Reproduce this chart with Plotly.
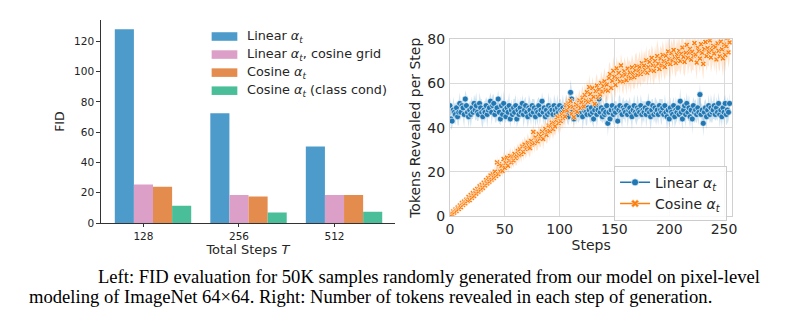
import plotly.graph_objects as go

# ---------------- data: left panel (FID bars) ----------------
steps_T = ["128", "256", "512"]
bar_series = ["Linear <i>α</i><sub><i>t</i></sub>",
              "Linear <i>α</i><sub><i>t</i></sub>, cosine grid",
              "Cosine <i>α</i><sub><i>t</i></sub>",
              "Cosine <i>α</i><sub><i>t</i></sub> (class cond)"]
fid_linear = [128.0, 72.5, 50.5]
fid_linear_cosgrid = [25.5, 18.5, 18.5]
fid_cosine = [24.0, 17.5, 18.5]
fid_cosine_cc = [11.5, 7.0, 7.5]
fid_ticks = [0, 20, 40, 60, 80, 100, 120]

# ---------------- data: right panel (tokens revealed per step) ----------------
steps_ticks = [0, 50, 100, 150, 200, 250]
tokens_ticks = [0, 20, 40, 60, 80]

linear_tokens = [
    50, 44, 43, 48, 47, 46, 49, 45, 47, 51, 47, 50, 49, 46, 53, 50,
    47, 45, 48, 46, 49, 47, 51, 48, 50, 47, 46, 51, 49, 47, 45, 48,
    47, 50, 46, 48, 49, 52, 47, 50, 51, 46, 48, 49, 53, 47, 44, 50,
    46, 51, 48, 45, 49, 47, 50, 44, 48, 46, 49, 47, 50, 44, 48, 46,
    49, 47, 51, 46, 48, 50, 47, 45, 49, 48, 46, 50, 47, 49, 45, 48,
    47, 50, 46, 48, 52, 47, 49, 45, 48, 46, 50, 47, 49, 48, 46, 50,
    48, 46, 49, 47, 50, 48, 47, 49, 46, 48, 50, 47, 45, 49, 56, 53,
    48, 44, 49, 47, 50, 46, 48, 47, 49, 45, 48, 50, 47, 46, 49, 48,
    46, 49, 47, 44, 48, 50, 46, 48, 53, 47, 49, 45, 48, 46, 47, 50,
    42, 47, 44, 48, 50, 46, 48, 47, 49, 43, 48, 50, 47, 46, 49, 48,
    47, 50, 46, 48, 49, 47, 45, 48, 50, 47, 46, 49, 48, 47, 50, 46,
    48, 47, 49, 46, 48, 51, 47, 45, 48, 50, 46, 49, 47, 48, 46, 50,
    48, 47, 49, 46, 50, 47, 45, 48, 44, 49, 47, 46, 50, 45, 48, 47,
    49, 46, 52, 47, 44, 48, 50, 46, 51, 47, 49, 45, 48, 44, 50, 47,
    48, 46, 49, 47, 55, 46, 48, 42, 47, 49, 45, 48, 50, 46, 49, 47,
    48, 50, 46, 49, 47, 51, 46, 48, 45, 49, 47, 51, 46, 48, 47, 51,
]
linear_spread = [
    4, 5, 3, 6, 4, 5, 3, 4, 6, 5, 4, 3, 5, 6, 4, 5,
    3, 5, 4, 6, 5, 3, 4, 5, 6, 4, 3, 5, 4, 6, 5, 4,
    5, 4, 6, 3, 5, 4, 6, 5, 4, 3, 6, 5, 4, 5, 3, 6,
    4, 6, 5, 3, 4, 5, 6, 4, 5, 3, 4, 6, 5, 4, 6, 3,
    5, 3, 4, 6, 5, 4, 3, 5, 6, 4, 5, 3, 6, 4, 5, 4,
    6, 4, 5, 3, 4, 6, 5, 4, 3, 5, 6, 4, 5, 3, 4, 5,
    4, 5, 6, 4, 3, 5, 4, 6, 5, 4, 5, 5, 4, 6, 6, 5,
    5, 4, 3, 6, 5, 4, 5, 3, 4, 6, 5, 4, 6, 5, 3, 4,
    4, 6, 5, 4, 3, 5, 6, 4, 5, 4, 6, 3, 5, 4, 6, 5,
    6, 4, 5, 3, 6, 5, 4, 5, 3, 4, 6, 5, 4, 6, 5, 4,
    5, 3, 6, 4, 5, 4, 6, 3, 5, 4, 5, 6, 4, 3, 5, 6,
    4, 5, 3, 6, 4, 5, 4, 6, 5, 3, 4, 5, 6, 4, 5, 3,
    5, 6, 4, 3, 5, 4, 6, 5, 4, 5, 3, 6, 4, 5, 6, 4,
    3, 5, 6, 4, 5, 3, 4, 6, 5, 4, 6, 5, 3, 7, 4, 5,
    5, 4, 5, 6, 5, 5, 3, 6, 5, 4, 6, 3, 5, 4, 6, 5,
    4, 6, 3, 5, 4, 5, 6, 4, 5, 3, 6, 4, 5, 6, 4, 5,
]
cosine_tokens = [
    0.5, 1.2, 0.8, 2.1, 1.6, 3.0, 2.4, 3.9, 3.2, 4.8, 4.0, 5.9, 5.1, 6.6, 5.8, 7.5,
    6.8, 8.6, 7.2, 9.5, 8.3, 10.4, 9.1, 11.6, 10.2, 12.3, 11.1, 13.5, 12.0, 14.2, 12.8, 15.1,
    13.9, 16.3, 14.8, 17.2, 15.6, 18.4, 16.5, 18.9, 17.3, 20.1, 18.2, 24.3, 19.0, 23.5, 20.2, 22.8,
    20.5, 25.8, 21.9, 24.0, 26.5, 22.8, 25.1, 27.2, 24.3, 26.9, 25.2, 28.1, 26.3, 27.0, 29.4, 27.6,
    30.2, 28.1, 31.5, 29.0, 32.4, 30.3, 31.0, 33.2, 31.6, 30.8, 34.0, 32.5, 38.1, 33.0, 35.6, 34.2,
    33.8, 37.2, 35.0, 36.1, 38.3, 34.9, 37.6, 39.5, 36.8, 38.2, 41.0, 38.5, 40.7, 42.3, 39.4, 42.0,
    40.6, 43.5, 44.8, 42.1, 45.2, 43.0, 46.1, 44.3, 47.4, 45.0, 50.2, 47.8, 51.0, 49.4, 52.1, 46.3,
    49.5, 44.8, 48.0, 50.6, 47.2, 49.8, 52.4, 48.9, 51.5, 53.6, 49.6, 54.8, 52.3, 56.1, 51.7, 58.4,
    55.2, 52.6, 57.9, 54.0, 50.8, 56.6, 59.1, 53.9, 57.3, 55.0, 60.2, 56.4, 58.8, 61.0, 57.2, 59.5,
    56.8, 62.5, 64.3, 58.0, 61.2, 65.8, 63.0, 59.4, 66.9, 62.1, 64.8, 61.0, 68.2, 63.5, 60.9, 65.6,
    64.0, 61.5, 66.8, 63.2, 65.0, 62.4, 67.3, 64.6, 62.9, 66.1, 68.0, 63.8, 65.9, 67.6, 64.3, 69.2,
    65.3, 68.1, 66.2, 70.5, 64.9, 67.4, 69.8, 66.0, 71.6, 68.3, 65.7, 70.2, 67.8, 72.4, 69.0, 66.6,
    71.3, 68.2, 73.0, 70.1, 67.5, 72.6, 69.4, 74.5, 71.0, 68.8, 73.7, 70.4, 75.2, 72.0, 69.3, 73.1,
    71.4, 74.8, 70.2, 73.5, 76.3, 72.1, 69.8, 74.0, 77.5, 71.6, 73.9, 75.7, 70.8, 74.4, 72.5, 78.3,
    73.1, 69.5, 76.2, 74.7, 71.3, 77.8, 73.9, 68.9, 75.6, 78.8, 72.4, 76.0, 74.3, 79.5, 71.8, 75.2,
    77.1, 73.6, 76.5, 70.9, 78.2, 74.8, 72.3, 79.0, 75.5, 71.4, 77.6, 73.0, 76.9, 80.5, 74.1, 78.6,
]
cosine_spread = [
    0.5, 0.8, 0.6, 1.0, 0.7, 1.1, 0.9, 1.2, 0.8, 1.3, 1.0, 1.4, 1.1, 1.5, 1.2, 1.6,
    1.3, 1.8, 1.4, 2.0, 1.5, 1.9, 1.6, 2.2, 1.7, 2.1, 1.8, 2.4, 1.9, 2.3, 2.0, 2.5,
    2.1, 2.7, 2.2, 2.6, 2.3, 2.9, 2.4, 2.8, 2.5, 3.1, 2.6, 3.0, 2.7, 3.2, 2.8, 3.3,
    2.9, 3.5, 3.0, 3.4, 3.1, 3.6, 3.2, 3.8, 3.3, 3.7, 3.4, 3.9, 3.5, 4.0, 3.6, 3.8,
    3.7, 4.2, 3.5, 4.1, 3.8, 4.4, 3.6, 4.3, 3.9, 4.5, 3.7, 4.6, 4.0, 4.4, 3.8, 4.7,
    4.0, 4.8, 4.1, 4.5, 3.9, 4.9, 4.2, 4.6, 4.0, 5.0, 4.3, 4.7, 4.1, 5.1, 4.4, 4.8,
    4.2, 5.2, 4.5, 4.9, 4.3, 5.3, 4.6, 5.0, 4.4, 5.4, 4.7, 5.1, 4.5, 5.5, 4.8, 5.2,
    4.6, 5.6, 4.9, 5.3, 4.7, 5.7, 5.0, 5.4, 4.8, 5.8, 5.1, 5.5, 4.9, 5.9, 5.2, 5.6,
    5.0, 6.0, 5.3, 5.7, 5.1, 6.1, 5.4, 5.8, 5.2, 6.2, 5.5, 5.9, 5.3, 6.3, 5.6, 6.0,
    5.2, 6.4, 5.5, 6.1, 5.3, 6.5, 5.6, 6.2, 5.4, 6.6, 5.7, 6.3, 5.5, 6.7, 5.8, 6.4,
    5.5, 6.8, 5.8, 6.4, 5.6, 6.9, 5.9, 6.5, 5.7, 7.0, 6.0, 6.6, 5.8, 7.1, 6.1, 6.7,
    5.8, 7.0, 6.1, 6.6, 5.9, 7.2, 6.2, 6.8, 6.0, 7.3, 6.3, 6.9, 6.1, 7.4, 6.4, 7.0,
    6.0, 7.3, 6.3, 6.9, 6.1, 7.5, 6.4, 7.0, 6.2, 7.6, 6.5, 7.1, 6.3, 7.7, 6.6, 7.2,
    6.2, 7.6, 6.5, 7.1, 6.3, 7.8, 6.6, 7.2, 6.4, 7.9, 6.7, 7.3, 6.5, 8.0, 6.8, 7.4,
    6.4, 7.8, 6.7, 7.3, 6.5, 8.0, 6.8, 7.4, 6.6, 8.1, 6.9, 7.5, 6.7, 8.2, 7.0, 7.6,
    6.6, 8.0, 6.9, 7.5, 6.7, 8.2, 7.0, 7.6, 6.8, 8.3, 7.1, 7.7, 6.9, 8.4, 7.2, 7.8,
]
caption_lines = [
    "Left: FID evaluation for 50K samples randomly generated from our model on pixel-level",
    "modeling of ImageNet 64×64. Right: Number of tokens revealed in each step of generation.",
]

# ---------------- styling ----------------
W, H = 800, 322
bar_colors = ["#4d9bcb", "#dca0c8", "#e48c4e", "#4abe98"]
BLUE, ORANGE = "#1f77b4", "#ff7f0e"
FONT = "DejaVu Sans"
TXT = "#262626"

def px_x(p):
    return p / W

def px_y(p):
    return 1 - p / H

fig = go.Figure()

# left bars (numeric category positions, group width 0.8)
cat_pos = list(range(len(steps_T)))
for name, vals, col in zip(bar_series,
                           [fid_linear, fid_linear_cosgrid, fid_cosine, fid_cosine_cc],
                           bar_colors):
    fig.add_trace(go.Bar(x=cat_pos, y=vals, name=name, marker_color=col,
                         marker_line_width=0, showlegend=False,
                         xaxis="x", yaxis="y"))

# right: bands, faint line, markers
steps = list(range(len(linear_tokens)))

def band(vals, spread):
    up = [v + s for v, s in zip(vals, spread)]
    lo = [v - s for v, s in zip(vals, spread)]
    return steps + steps[::-1], up + lo[::-1]

bx, by = band(linear_tokens, linear_spread)
fig.add_trace(go.Scatter(x=bx, y=by, fill="toself", fillcolor="rgba(31,119,180,0.2)",
                         line=dict(width=0), mode="lines", hoverinfo="skip",
                         showlegend=False, xaxis="x2", yaxis="y2"))
cx, cy = band(cosine_tokens, cosine_spread)
fig.add_trace(go.Scatter(x=cx, y=cy, fill="toself", fillcolor="rgba(255,127,14,0.2)",
                         line=dict(width=0), mode="lines", hoverinfo="skip",
                         showlegend=False, xaxis="x2", yaxis="y2"))

fig.add_trace(go.Scatter(x=steps, y=linear_tokens, mode="lines+markers",
                         line=dict(color="rgba(31,119,180,0.22)", width=1),
                         marker=dict(symbol="circle", size=6, color=BLUE,
                                     line=dict(color="white", width=0.6)),
                         showlegend=False, xaxis="x2", yaxis="y2", cliponaxis=True))
fig.add_trace(go.Scatter(x=steps, y=cosine_tokens, mode="lines+markers",
                         line=dict(color="rgba(255,127,14,0.22)", width=1),
                         marker=dict(symbol="x", size=5, color=ORANGE,
                                     line=dict(color="white", width=0.6)),
                         showlegend=False, xaxis="x2", yaxis="y2", cliponaxis=True))

# legend entries for the right panel
fig.add_trace(go.Scatter(x=[None], y=[None], mode="lines+markers",
                         name="Linear <i>α</i><sub><i>t</i></sub>",
                         line=dict(color=BLUE, width=1.5),
                         marker=dict(symbol="circle", size=7, color=BLUE,
                                     line=dict(color="white", width=0.6)),
                         legend="legend2", xaxis="x2", yaxis="y2"))
fig.add_trace(go.Scatter(x=[None], y=[None], mode="lines+markers",
                         name="Cosine <i>α</i><sub><i>t</i></sub>",
                         line=dict(color=ORANGE, width=1.5),
                         marker=dict(symbol="x", size=7, color=ORANGE,
                                     line=dict(color="white", width=0.5)),
                         legend="legend2", xaxis="x2", yaxis="y2"))

# left legend drawn as patches + text
shapes, annotations = [], []
legend_rows_px = [30, 49, 68, 87]
for name, col, yc in zip(bar_series, bar_colors, legend_rows_px):
    shapes.append(dict(type="rect", xref="paper", yref="paper",
                       x0=px_x(210), x1=px_x(236), y0=px_y(yc + 4.5), y1=px_y(yc - 4.5),
                       fillcolor=col, line=dict(width=0)))
    annotations.append(dict(text=name, xref="paper", yref="paper",
                            x=px_x(244), y=px_y(yc), xanchor="left", yanchor="middle",
                            showarrow=False, font=dict(family=FONT, size=12.8, color=TXT)))

# caption
for txt, xp, yp in zip(caption_lines, [93, 23], [283, 304]):
    annotations.append(dict(text=txt, xref="paper", yref="paper",
                            x=px_x(xp), y=px_y(yp), xanchor="left", yanchor="middle",
                            showarrow=False,
                            font=dict(family="Liberation Serif", size=18.6, color="black")))

left_x0, left_x1 = 98.3, 395.0
grp_center0, grp_step = 150.7, 96.6
xr_left = [(left_x0 - grp_center0) / grp_step, (left_x1 - grp_center0) / grp_step]

fig.update_layout(
    width=W, height=H,
    margin=dict(l=0, r=0, t=0, b=0),
    paper_bgcolor="white", plot_bgcolor="white",
    font=dict(family=FONT, color=TXT),
    barmode="group", bargap=0.2, bargroupgap=0,
    shapes=shapes, annotations=annotations,
    xaxis=dict(domain=[px_x(left_x0), px_x(left_x1)], range=xr_left,
               tickvals=[p - 0.1 for p in cat_pos], ticktext=steps_T,
               showline=True, linecolor="#333333", linewidth=1,
               ticks="outside", ticklen=3, tickcolor="#333333",
               showgrid=False, zeroline=False,
               tickfont=dict(size=10.5, color="#222222"),
               title=dict(text="Total Steps <i>T</i>", font=dict(size=13, color=TXT), standoff=1)),
    yaxis=dict(domain=[px_y(226.3), px_y(12.7)], range=[0, 134],
               tickvals=fid_ticks, showline=True, linecolor="#333333", linewidth=1,
               ticks="outside", ticklen=4, tickcolor="#333333",
               showgrid=False, zeroline=False,
               tickfont=dict(size=10.5, color="#222222"),
               title=dict(text="FID", font=dict(size=12.5, color=TXT), standoff=6)),
    xaxis2=dict(domain=[px_x(451), px_x(736.7)], range=[0, 257.6],
                tickvals=steps_ticks, showline=True, mirror=True,
                linecolor="#d0d0d0", linewidth=1,
                showgrid=True, gridcolor="#dadada", gridwidth=1, zeroline=False,
                ticks="", tickfont=dict(size=14, color=TXT),
                title=dict(text="Steps", font=dict(size=14, color=TXT), standoff=3),
                anchor="y2"),
    yaxis2=dict(domain=[px_y(219), px_y(33)], range=[0, 80],
                tickvals=tokens_ticks, showline=True, mirror=True,
                linecolor="#d0d0d0", linewidth=1,
                showgrid=True, gridcolor="#dadada", gridwidth=1, zeroline=False,
                ticks="", tickfont=dict(size=14, color=TXT), ticklabelstandoff=1,
                title=dict(text="Tokens Revealed per Step", font=dict(size=14, color=TXT), standoff=3),
                anchor="x2"),
    legend2=dict(x=px_x(617), y=px_y(166), xanchor="left", yanchor="top",
                 bgcolor="rgba(255,255,255,0.85)", bordercolor="#cccccc", borderwidth=1,
                 font=dict(family=FONT, size=14, color=TXT), itemwidth=30,
                 tracegroupgap=0),
)

fig.write_html("out.html")
